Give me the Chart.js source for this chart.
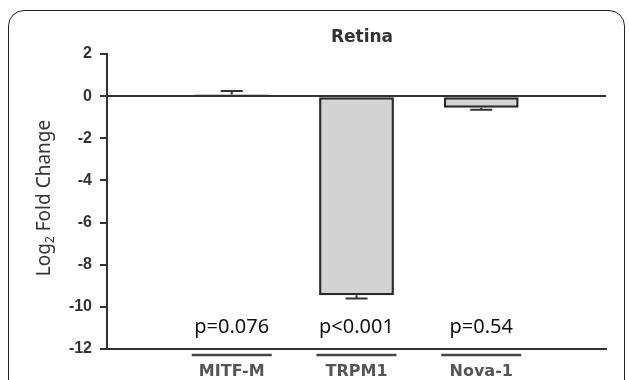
<!DOCTYPE html>
<html>
<head>
<meta charset="utf-8">
<script src="https://cdn.jsdelivr.net/npm/chart.js@4/dist/chart.umd.min.js"></script>
<style>
  html, body { margin: 0; padding: 0; background: #fff; }
  #wrap { position: relative; width: 629px; height: 380px; overflow: hidden; }
  #frame { position: absolute; left: 8px; top: 10px; width: 617px; height: 420px;
           border: 1.5px solid #222; border-radius: 16px; box-sizing: border-box; }
  canvas { position: absolute; left: 0; top: 0; }
</style>
</head>
<body>
<div id="wrap">
  <div id="frame"></div>
  <canvas id="chart" width="629" height="380"></canvas>
</div>
<script>
// data
const genes = ['', 'MITF-M', 'TRPM1', 'Nova-1', ''];
const foldChange = [null, 0.08, -9.45, -0.55, null];
const errors = [null, 0.17, 0.15, 0.1, null];
const pValues = [null, 'p=0.076', 'p<0.001', 'p=0.54', null];
const yTicks = [2, 0, -2, -4, -6, -8, -10, -12];

// error bars, title, labels drawn on top
const extras = {
  id: 'extras',
  afterDatasetsDraw(chart) {
    const c = chart.ctx;
    const x = chart.scales.x;
    const y = chart.scales.y;
    c.save();
    c.strokeStyle = '#333';
    c.lineWidth = 2;
    for (let i = 0; i < genes.length; i++) {
      if (foldChange[i] === null) continue;
      const cx = x.getPixelForValue(i);
      const v = foldChange[i];
      const end = v >= 0 ? v + errors[i] : v - errors[i];
      c.beginPath();
      c.moveTo(cx, y.getPixelForValue(v));
      c.lineTo(cx, y.getPixelForValue(end));
      c.moveTo(cx - 11, y.getPixelForValue(end));
      c.lineTo(cx + 11, y.getPixelForValue(end));
      c.stroke();
    }
    c.restore();
  },
  afterDraw(chart) {
    const c = chart.ctx;
    const x = chart.scales.x;
    c.save();
    c.textAlign = 'center';
    c.textBaseline = 'middle';

    // title
    c.fillStyle = '#333';
    c.font = 'bold 17px "DejaVu Sans", sans-serif';
    c.fillText('Retina', 362, 38);

    for (let i = 0; i < genes.length; i++) {
      if (!pValues[i]) continue;
      const cx = x.getPixelForValue(i);
      c.fillStyle = '#111';
      c.font = '20px "Noto Sans", sans-serif';
      c.fillText(pValues[i], cx, 327);

      c.strokeStyle = '#444';
      c.lineWidth = 2.5;
      c.beginPath();
      c.moveTo(cx - 40, 355);
      c.lineTo(cx + 40, 355);
      c.stroke();

      c.fillStyle = '#555';
      c.font = 'bold 16px "DejaVu Sans", sans-serif';
      c.fillText(genes[i], cx, 372);
    }

    // y axis title with subscript
    c.translate(45, 198);
    c.rotate(-Math.PI / 2);
    c.fillStyle = '#333';
    const a = 'Log', b = '2', d = ' Fold Change';
    c.font = '19px "Noto Sans", sans-serif';
    const wa = c.measureText(a).width, wd = c.measureText(d).width;
    c.font = '12px "Noto Sans", sans-serif';
    const wb = c.measureText(b).width;
    let px = -(wa + wb + wd) / 2;
    c.textAlign = 'left';
    c.font = '19px "Noto Sans", sans-serif';
    c.fillText(a, px, 0);
    c.font = '12px "Noto Sans", sans-serif';
    c.fillText(b, px + wa, 6);
    c.font = '19px "Noto Sans", sans-serif';
    c.fillText(d, px + wa + wb, 0);
    c.restore();
  }
};

new Chart(document.getElementById('chart'), {
  type: 'bar',
  data: {
    labels: genes,
    datasets: [{
      data: foldChange,
      backgroundColor: '#d3d3d3',
      borderColor: '#2a2a2a',
      borderWidth: 2.5,
      borderSkipped: false,
      barPercentage: 0.6,
      categoryPercentage: 1.0
    }]
  },
  options: {
    responsive: false,
    animation: false,
    layout: { padding: { top: 54, right: 23, left: 0, bottom: 0 } },
    plugins: { legend: { display: false }, tooltip: { enabled: false } },
    scales: {
      x: {
        offset: false,
        grid: { display: false },
        ticks: { display: false },
        border: { color: '#333', width: 2 },
        afterFit(s) { s.height = 31; }
      },
      y: {
        min: -12,
        max: 2,
        afterFit(s) { s.width = 107; },
        afterBuildTicks(s) { s.ticks = yTicks.map(v => ({ value: v })); },
        grid: {
          color: ctx => ctx.tick && ctx.tick.value === 0 ? '#333' : 'rgba(0,0,0,0)',
          lineWidth: 2,
          tickColor: '#333',
          tickLength: 7,
          drawOnChartArea: true
        },
        border: { color: '#333', width: 2 },
        ticks: {
          color: '#333',
          padding: 8,
          font: { family: '"Liberation Sans", Arial, sans-serif', size: 16, weight: 'bold' }
        }
      }
    }
  },
  plugins: [extras]
});
</script>
</body>
</html>
